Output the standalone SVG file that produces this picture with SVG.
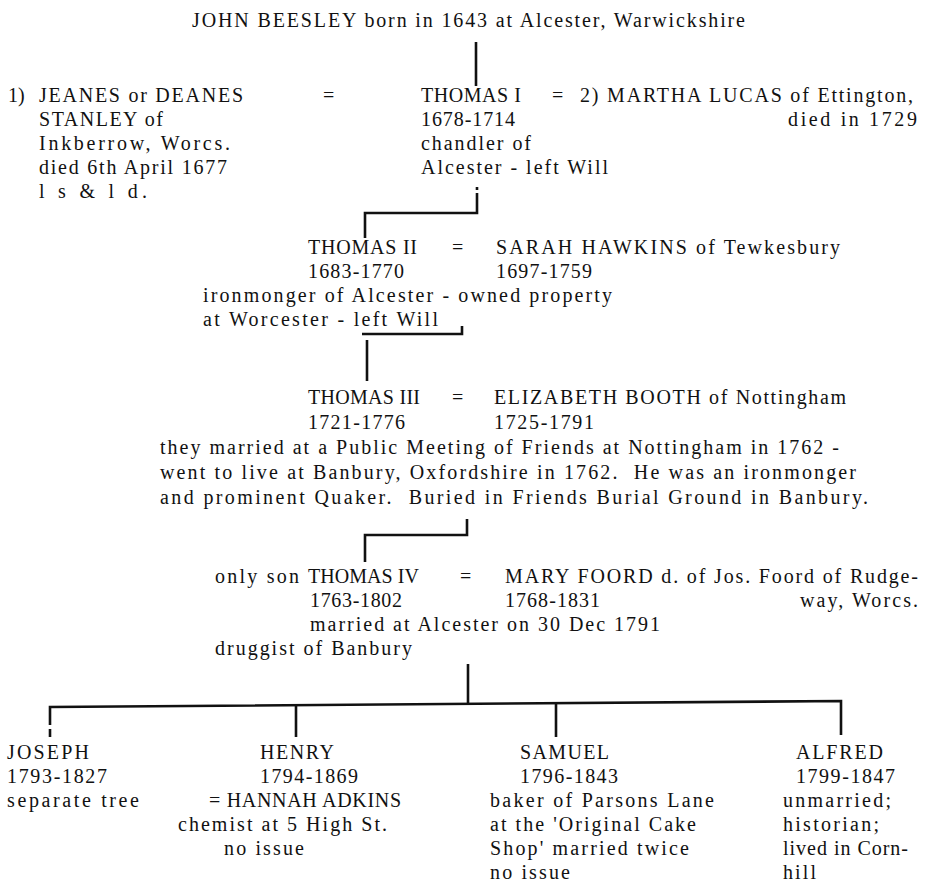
<svg xmlns="http://www.w3.org/2000/svg" width="931" height="891" viewBox="0 0 931 891">
<style>
.t { font-family: "Liberation Serif", "Times New Roman", serif; font-size: 20px; fill: #111111; white-space: pre; }
.c { stroke: #111111; stroke-width: 2.6; fill: none; }
</style>
<rect width="931" height="891" fill="#ffffff"/>
<g id="connectors">
<path class="c" d="M476 42 V86"/>
<path class="c" d="M477 187 V190 M477 193 V213 H365 V238"/>
<path class="c" d="M362 334 H462 V326"/>
<path class="c" d="M367 340 V381"/>
<path class="c" d="M467 519 V535 H365 V562"/>
<path class="c" d="M468 664 V704"/>
<path class="c" d="M50 725 V707 L841 701 V735"/>
<path class="c" d="M50 729 V737"/>
<path class="c" d="M296 705 V737"/>
<path class="c" d="M556 704 V737"/>
</g>
<g id="john">
<text class="t" x="192" y="27" textLength="553">JOHN BEESLEY born in 1643 at Alcester, Warwickshire</text>
</g>
<g id="jeanes">
<text class="t" x="8" y="102">1)</text>
<text class="t" x="39" y="102" textLength="204">JEANES or DEANES</text>
<text class="t" x="39" y="126" textLength="124">STANLEY of</text>
<text class="t" x="39" y="150" textLength="191">Inkberrow, Worcs.</text>
<text class="t" x="39" y="174" textLength="188">died 6th April 1677</text>
<text class="t" x="39" y="198" textLength="108">l s &amp; l d.</text>
<text class="t" x="323" y="102">=</text>
</g>
<g id="thomas1">
<text class="t" x="421" y="102" textLength="100">THOMAS I</text>
<text class="t" x="421" y="126" textLength="94">1678-1714</text>
<text class="t" x="421" y="150" textLength="110">chandler of</text>
<text class="t" x="421" y="174" textLength="187">Alcester - left Will</text>
</g>
<g id="martha">
<text class="t" x="552" y="102">=</text>
<text class="t" x="580" y="102" textLength="333">2) MARTHA LUCAS of Ettington,</text>
<text class="t" x="788" y="126" textLength="129">died in 1729</text>
</g>
<g id="thomas2">
<text class="t" x="308" y="254" textLength="109">THOMAS II</text>
<text class="t" x="308" y="278" textLength="96">1683-1770</text>
<text class="t" x="203" y="302" textLength="409">ironmonger of Alcester - owned property</text>
<text class="t" x="203" y="326" textLength="235">at Worcester - left Will</text>
</g>
<g id="sarah">
<text class="t" x="452" y="254">=</text>
<text class="t" x="496" y="254" textLength="344">SARAH HAWKINS of Tewkesbury</text>
<text class="t" x="496" y="278" textLength="96">1697-1759</text>
</g>
<g id="thomas3">
<text class="t" x="308" y="404" textLength="112">THOMAS III</text>
<text class="t" x="308" y="429" textLength="97">1721-1776</text>
<text class="t" x="160" y="454" textLength="679">they married at a Public Meeting of Friends at Nottingham in 1762 -</text>
<text class="t" x="160" y="479" textLength="696">went to live at Banbury, Oxfordshire in 1762.  He was an ironmonger</text>
<text class="t" x="160" y="504" textLength="708">and prominent Quaker.  Buried in Friends Burial Ground in Banbury.</text>
</g>
<g id="elizabeth">
<text class="t" x="452" y="404">=</text>
<text class="t" x="494" y="404" textLength="352">ELIZABETH BOOTH of Nottingham</text>
<text class="t" x="494" y="429" textLength="100">1725-1791</text>
</g>
<g id="thomas4">
<text class="t" x="215" y="583" textLength="84">only son</text>
<text class="t" x="308" y="583" textLength="111">THOMAS IV</text>
<text class="t" x="310" y="607" textLength="92">1763-1802</text>
<text class="t" x="310" y="631" textLength="350">married at Alcester on 30 Dec 1791</text>
<text class="t" x="215" y="655" textLength="197">druggist of Banbury</text>
</g>
<g id="mary">
<text class="t" x="460" y="583">=</text>
<text class="t" x="505" y="583" textLength="413">MARY FOORD d. of Jos. Foord of Rudge-</text>
<text class="t" x="505" y="607" textLength="95">1768-1831</text>
<text class="t" x="800" y="607" textLength="118">way, Worcs.</text>
</g>
<g id="joseph">
<text class="t" x="7" y="759" textLength="82">JOSEPH</text>
<text class="t" x="7" y="783" textLength="100">1793-1827</text>
<text class="t" x="7" y="807" textLength="132">separate tree</text>
</g>
<g id="henry">
<text class="t" x="260" y="759" textLength="74">HENRY</text>
<text class="t" x="260" y="783" textLength="98">1794-1869</text>
<text class="t" x="209" y="807" textLength="192">= HANNAH ADKINS</text>
<text class="t" x="178" y="831" textLength="209">chemist at 5 High St.</text>
<text class="t" x="224" y="855" textLength="80">no issue</text>
</g>
<g id="samuel">
<text class="t" x="520" y="759" textLength="89">SAMUEL</text>
<text class="t" x="520" y="783" textLength="98">1796-1843</text>
<text class="t" x="490" y="807" textLength="224">baker of Parsons Lane</text>
<text class="t" x="490" y="831" textLength="206">at the 'Original Cake</text>
<text class="t" x="490" y="855" textLength="199">Shop' married twice</text>
<text class="t" x="490" y="879" textLength="80">no issue</text>
</g>
<g id="alfred">
<text class="t" x="796" y="759" textLength="87">ALFRED</text>
<text class="t" x="796" y="783" textLength="99">1799-1847</text>
<text class="t" x="783" y="807" textLength="108">unmarried;</text>
<text class="t" x="783" y="831" textLength="96">historian;</text>
<text class="t" x="783" y="855" textLength="125">lived in Corn-</text>
<text class="t" x="783" y="879" textLength="33">hill</text>
</g>
</svg>
